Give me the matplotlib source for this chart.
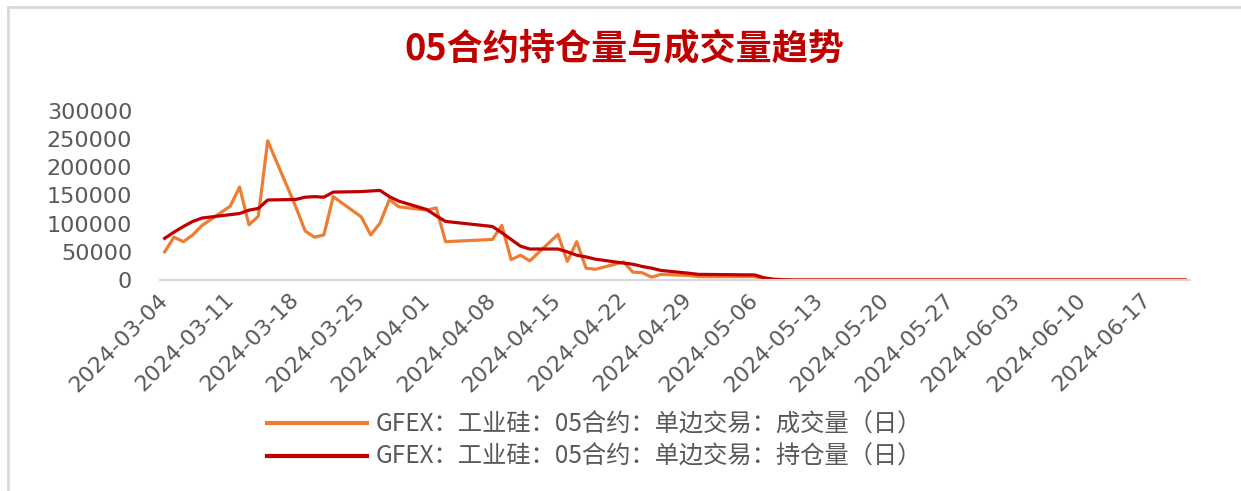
import pandas as pd
import matplotlib
matplotlib.use('Agg')
import matplotlib.pyplot as plt
import matplotlib.dates as mdates

# trading days, 2024 (Qingming, Labour Day and Dragon Boat holidays skipped)
dates = ['2024-03-04', '2024-03-05', '2024-03-06', '2024-03-07', '2024-03-08',
         '2024-03-11', '2024-03-12', '2024-03-13', '2024-03-14', '2024-03-15',
         '2024-03-18', '2024-03-19', '2024-03-20', '2024-03-21', '2024-03-22',
         '2024-03-25', '2024-03-26', '2024-03-27', '2024-03-28', '2024-03-29',
         '2024-04-01', '2024-04-02', '2024-04-03',
         '2024-04-08', '2024-04-09', '2024-04-10', '2024-04-11', '2024-04-12',
         '2024-04-15', '2024-04-16', '2024-04-17', '2024-04-18', '2024-04-19',
         '2024-04-22', '2024-04-23', '2024-04-24', '2024-04-25', '2024-04-26',
         '2024-04-29', '2024-04-30',
         '2024-05-06', '2024-05-07', '2024-05-08', '2024-05-09', '2024-05-10',
         '2024-05-13', '2024-05-14', '2024-05-15', '2024-05-16', '2024-05-17',
         '2024-05-20', '2024-05-21', '2024-05-22', '2024-05-23', '2024-05-24',
         '2024-05-27', '2024-05-28', '2024-05-29', '2024-05-30', '2024-05-31',
         '2024-06-03', '2024-06-04', '2024-06-05', '2024-06-06', '2024-06-07',
         '2024-06-11', '2024-06-12', '2024-06-13', '2024-06-14',
         '2024-06-17', '2024-06-18', '2024-06-19', '2024-06-20', '2024-06-21']

# daily volume
volume = [50000, 76000, 68000, 80000, 97000,
          131000, 165000, 98000, 113000, 247000,
          130000, 87000, 76000, 80000, 148000,
          112000, 80000, 101000, 143000, 130000,
          124000, 128000, 68000,
          72000, 97000, 36000, 44000, 34000,
          81000, 33000, 68000, 21000, 19000,
          32000, 14000, 13000, 5000, 10000,
          8000, 6000,
          6000, 2000, 500, 0, 0,
          0, 0, 0, 0, 0,
          0, 0, 0, 0, 0,
          0, 0, 0, 0, 0,
          0, 0, 0, 0, 0,
          0, 0, 0, 0,
          0, 0, 0, 0, 0]

# open interest
holding = [74000, 85000, 95000, 104000, 110000,
           116000, 118000, 124000, 127000, 142000,
           143000, 147000, 148000, 147000, 156000,
           157000, 158000, 159000, 148000, 140000,
           125000, 114000, 104000,
           95000, 84000, 72000, 60000, 55000,
           55000, 50000, 44000, 41000, 37000,
           30000, 28000, 24000, 21000, 17000,
           12000, 10000,
           9000, 4000, 1500, 500, 0,
           0, 0, 0, 0, 0,
           0, 0, 0, 0, 0,
           0, 0, 0, 0, 0,
           0, 0, 0, 0, 0,
           0, 0, 0, 0,
           0, 0, 0, 0, 0]

yticks = [0, 50000, 100000, 150000, 200000, 250000, 300000]
title = '05合约持仓量与成交量趋势'
name_vol = 'GFEX：工业硅：05合约：单边交易：成交量（日）'
name_oi = 'GFEX：工业硅：05合约：单边交易：持仓量（日）'

cjk = ['Noto Sans CJK SC', 'DejaVu Sans']
grey = '#595959'

x = pd.to_datetime(dates)

fig = plt.figure(figsize=(12.41, 4.91), dpi=100)
ax = fig.add_axes([160 / 1241, 1 - 280 / 491, 1030 / 1241, 169 / 491])

l1, = ax.plot(x, volume, color='#ED7D31', lw=2.3, solid_joinstyle='round')
l2, = ax.plot(x, holding, color='#C00000', lw=2.3, solid_joinstyle='round')

ax.set_ylim(0, 300000)
ax.set_yticks(yticks)
ax.set_xlim(pd.Timestamp('2024-03-03 12:00'), pd.Timestamp('2024-06-21 12:00'))
ax.set_xticks(pd.date_range('2024-03-04', '2024-06-17', freq='7D'))
ax.xaxis.set_major_formatter(mdates.DateFormatter('%Y-%m-%d'))

for s in ['top', 'right', 'left']:
    ax.spines[s].set_visible(False)
ax.spines['bottom'].set_color('#D9D9D9')
ax.spines['bottom'].set_linewidth(1.5)
ax.tick_params(axis='both', length=0, colors=grey, labelsize=16)
ax.tick_params(axis='y', pad=20)
ax.tick_params(axis='x', pad=12)
for lab in ax.get_xticklabels():
    lab.set_rotation(45)
    lab.set_ha('right')
    lab.set_va('center')
    lab.set_rotation_mode('anchor')

fig.text(0.503, 1 - 49 / 491, title, color='#C00000', fontsize=26,
         fontweight='bold', family=cjk, ha='center', va='center')

leg = fig.legend([l1, l2], [name_vol, name_oi], loc='center left',
                 bbox_to_anchor=(267 / 1241, 1 - 441 / 491), frameon=False,
                 borderpad=0, borderaxespad=0,
                 handlelength=4.1, handletextpad=0.35, labelspacing=0.25,
                 prop={'family': cjk, 'size': 17.5})
for t in leg.get_texts():
    t.set_color(grey)
for h in leg.get_lines():
    h.set_linewidth(3)

# grey frame on the left and top
fig.add_artist(plt.Line2D([8 / 1241, 8 / 1241], [0, 1 - 7 / 491], color='#D9D9D9', lw=2))
fig.add_artist(plt.Line2D([8 / 1241, 1], [1 - 7 / 491, 1 - 7 / 491], color='#D9D9D9', lw=2))

fig.savefig('out.png', dpi=100)
